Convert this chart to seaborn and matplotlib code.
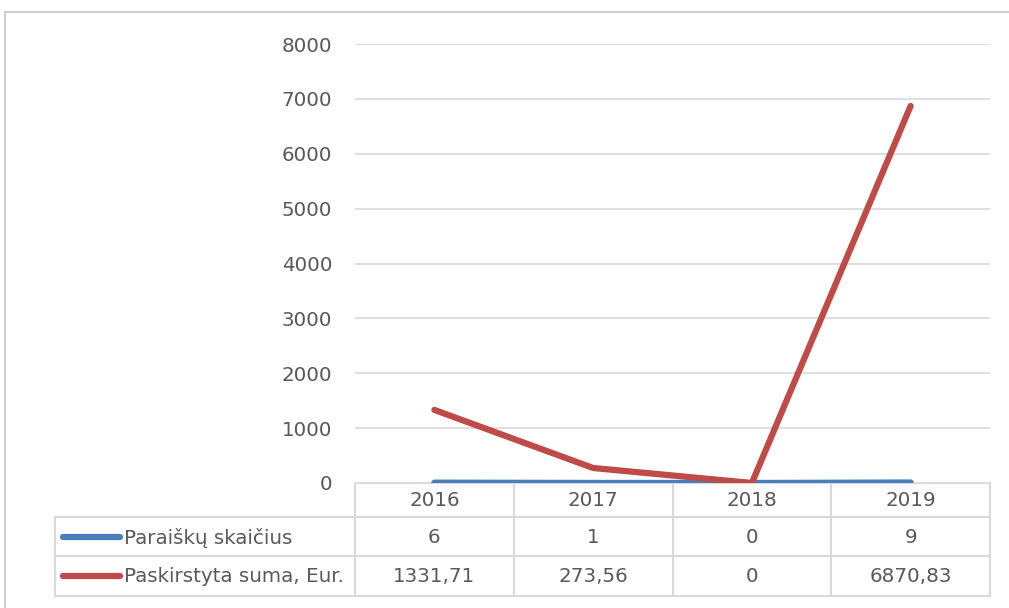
import matplotlib
matplotlib.use('Agg')
import matplotlib.pyplot as plt
import seaborn as sns
import pandas as pd

metai = ['2016', '2017', '2018', '2019']
paraisku_skaicius = [6, 1, 0, 9]
paskirstyta_suma = [1331.71, 273.56, 0, 6870.83]
suma_tekstas = ['1331,71', '273,56', '0', '6870,83']
serijos = ['Paraiškų skaičius', 'Paskirstyta suma, Eur.']
y_ticks = [0, 1000, 2000, 3000, 4000, 5000, 6000, 7000, 8000]

spalvos = ['#4A7EBB', '#BE4B48']
pilka = '#595959'
linija = '#D9D9D9'
fs = 14.3

sns.set_theme(style='white')
plt.rcParams['font.family'] = ['DejaVu Sans']

W, H = 1009, 608
fig = plt.figure(figsize=(W / 100, H / 100), dpi=100)

# plot area in pixel coords
px_l, px_r, px_t, px_b = 355, 990, 44, 483
ax = fig.add_axes([px_l / W, 1 - px_b / H, (px_r - px_l) / W, (px_b - px_t) / H])

df = pd.DataFrame({
    'x': list(range(len(metai))) * 2,
    'reiksme': paraisku_skaicius + paskirstyta_suma,
    'serija': [serijos[0]] * len(metai) + [serijos[1]] * len(metai),
})
sns.lineplot(data=df, x='x', y='reiksme', hue='serija', palette=spalvos,
             linewidth=4.5, ax=ax, legend=False, solid_capstyle='round')

ax.set_xlim(-0.5, len(metai) - 0.5)
ax.set_ylim(0, 8000)
ax.set_yticks(y_ticks)
ax.set_yticklabels([str(v) for v in y_ticks], color=pilka, fontsize=fs)
ax.tick_params(axis='y', length=0, pad=16.5)
ax.set_xticks([])
ax.set_xlabel('')
ax.set_ylabel('')
ax.yaxis.grid(True, color=linija, linewidth=1.2)
ax.set_axisbelow(True)
for s in ax.spines.values():
    s.set_visible(False)

# overlay for data table and frame
ov = fig.add_axes([0, 0, 1, 1], zorder=-1)
ov.set_xlim(0, W)
ov.set_ylim(H, 0)
ov.axis('off')

ov.plot([5, 5, W + 5], [H + 5, 12, 12], color='#D0D0D0', lw=1.5)

cols = [px_l + i * (px_r - px_l) / len(metai) for i in range(len(metai) + 1)]
rows = [483, 517, 556, 596]
tab_l = 55

ov.plot([px_l, px_r], [rows[0], rows[0]], color=linija, lw=1.5)
for y in rows[1:]:
    ov.plot([tab_l, px_r], [y, y], color=linija, lw=1.5)
for x in cols:
    ov.plot([x, x], [rows[0], rows[-1]], color=linija, lw=1.5)
ov.plot([tab_l, tab_l], [rows[1], rows[-1]], color=linija, lw=1.5)

for i, m in enumerate(metai):
    cx = (cols[i] + cols[i + 1]) / 2
    ov.text(cx, (rows[0] + rows[1]) / 2 + 1, m, ha='center', va='center', color=pilka, fontsize=fs)
    ov.text(cx, (rows[1] + rows[2]) / 2 + 1, str(paraisku_skaicius[i]), ha='center', va='center', color=pilka, fontsize=fs)
    ov.text(cx, (rows[2] + rows[3]) / 2 + 1, suma_tekstas[i], ha='center', va='center', color=pilka, fontsize=fs)

for j, (name, c) in enumerate(zip(serijos, spalvos)):
    cy = (rows[j + 1] + rows[j + 2]) / 2
    ov.plot([63, 120], [cy, cy], color=c, lw=4.5, solid_capstyle='round')
    ov.text(124, cy + 1, name, ha='left', va='center', color=pilka, fontsize=fs)

fig.savefig('out.png', dpi=100, facecolor='white')
